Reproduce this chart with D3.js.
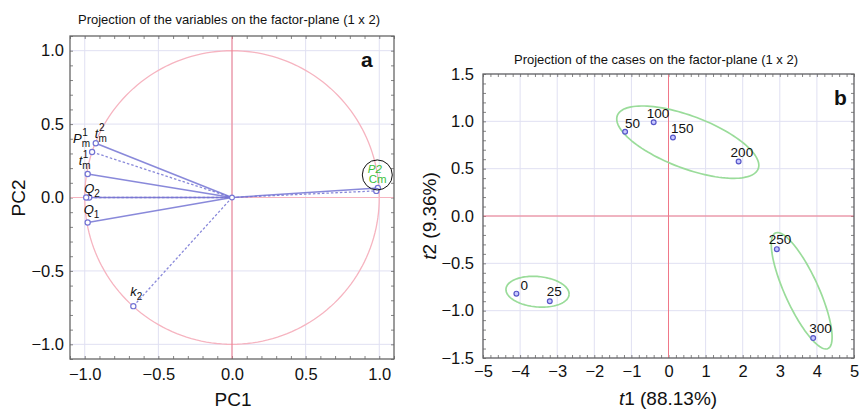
<!DOCTYPE html>
<html>
<head>
<meta charset="utf-8">
<script src="https://cdn.jsdelivr.net/npm/d3@7"></script>
<style>
  body { margin: 0; background: #fff; }
  svg text { font-family: "Liberation Sans", Arial, Helvetica, sans-serif; fill: #111; }
</style>
</head>
<body>
<div id="chart"></div>
<script>
// ---- data: panel a (variables) ----
const varBase = ["t", "P", "t", "Q", "", "Q", "k", "", ""]
const varSup = ["2", "1", "1", "", "", "", "", "", ""]
const varSub = ["m", "m", "m", "2", "", "1", "2", "", ""]
const varPC1 = [-0.925, -0.95, -0.98, -0.97, -0.99, -0.98, -0.67, 0.99, 0.98]
const varPC2 = [0.37, 0.31, 0.16, 0.0, 0.0, -0.17, -0.74, 0.065, 0.045]
const varDashed = [false, true, false, false, true, false, true, false, true]
const rightLabels = ["P2", "Cm"]

// ---- data: panel b (cases) ----
const caseLabels = ["0", "25", "50", "100", "150", "200", "250", "300"]
const caseT1 = [-4.1, -3.2, -1.17, -0.4, 0.12, 1.89, 2.92, 3.9]
const caseT2 = [-0.82, -0.9, 0.89, 0.99, 0.83, 0.575, -0.35, -1.29]

// group ellipses: centre, semi-axis vectors (data units)
const ellCenter = [[-3.53, -0.80], [0.52, 0.78], [3.59, -0.79]]
const ellAxisA = [[0.85, -0.03], [1.90, -0.28], [0.71, -0.61]]
const ellAxisB = [[-0.035, -0.16], [-0.24, -0.26], [-0.41, -0.077]]

// ticks
const ticksA = [-1.0, -0.5, 0.0, 0.5, 1.0]
const ticksBx = [-5, -4, -3, -2, -1, 0, 1, 2, 3, 4, 5]
const ticksBy = [-1.5, -1.0, -0.5, 0.0, 0.5, 1.0, 1.5]

const W = 861, H = 409
const svg = d3.select("#chart").append("svg").attr("width", W).attr("height", H)

const gridColor = "#e0e0f2"
const redColor = "#f07888"
const blueColor = "#7474d4"
const greenColor = "#9adc9a"

function frame(g, x, y, xMajor, yMajor, xMinorStep, yMinorStep, fmtX, fmtY, padX, padY) {
    const [x0, x1] = x.range(), [y1, y0] = y.range()
    // grid
    g.append("g").selectAll("line").data(xMajor).join("line")
        .attr("x1", d => x(d)).attr("x2", d => x(d)).attr("y1", y0).attr("y2", y1)
        .attr("stroke", gridColor).attr("stroke-width", 1)
    g.append("g").selectAll("line").data(yMajor).join("line")
        .attr("y1", d => y(d)).attr("y2", d => y(d)).attr("x1", x0).attr("x2", x1)
        .attr("stroke", gridColor).attr("stroke-width", 1)

    const xd = x.domain(), yd = y.domain()
    const xm = d3.range(Math.ceil(xd[0] / xMinorStep - 1e-6), Math.floor(xd[1] / xMinorStep + 1e-6) + 1).map(i => i * xMinorStep)
    const ym = d3.range(Math.ceil(yd[0] / yMinorStep - 1e-6), Math.floor(yd[1] / yMinorStep + 1e-6) + 1).map(i => i * yMinorStep)

    // inner minor ticks on four sides
    const tk = g.append("g").attr("class", "ticks")
    tk.append("g").attr("transform", `translate(0,${y1})`)
        .call(d3.axisBottom(x).tickValues(xm).tickSize(-3).tickFormat(""))
    tk.append("g").attr("transform", `translate(0,${y0})`)
        .call(d3.axisTop(x).tickValues(xm).tickSize(-3).tickFormat(""))
    tk.append("g").attr("transform", `translate(${x0},0)`)
        .call(d3.axisLeft(y).tickValues(ym).tickSize(-3).tickFormat(""))
    tk.append("g").attr("transform", `translate(${x1},0)`)
        .call(d3.axisRight(y).tickValues(ym).tickSize(-3).tickFormat(""))
    tk.selectAll(".domain").remove()
    tk.selectAll(".tick line").attr("stroke", "#666").attr("stroke-width", 0.8)

    // labels
    const ax = g.append("g").attr("transform", `translate(0,${y1})`)
        .call(d3.axisBottom(x).tickValues(xMajor).tickSize(0).tickPadding(padX).tickFormat(fmtX))
    const ay = g.append("g").attr("transform", `translate(${x0},0)`)
        .call(d3.axisLeft(y).tickValues(yMajor).tickSize(0).tickPadding(padY).tickFormat(fmtY))
    ax.select(".domain").remove()
    ay.select(".domain").remove()
    g.selectAll(".tick text").attr("font-size", 16.5).attr("fill", "#111")
        .attr("font-family", "Liberation Sans, Arial, sans-serif")
    return { x0, x1, y0, y1 }
}

function border(g, b) {
    g.append("rect").attr("x", b.x0).attr("y", b.y0)
        .attr("width", b.x1 - b.x0).attr("height", b.y1 - b.y0)
        .attr("fill", "none").attr("stroke", "#666").attr("stroke-width", 1.3)
}

const fmt1 = d3.format(".1f")

// ================= panel a =================
const ga = svg.append("g")
const xA = d3.scaleLinear().domain([-1.1, 1.1]).range([70, 394])
const yA = d3.scaleLinear().domain([-1.1, 1.1]).range([359, 36])
const bA = frame(ga, xA, yA, ticksA, ticksA, 0.1, 0.1, fmt1, fmt1, 9, 6)

// unit circle
const circ = d3.range(0, 361, 2).map(a => [Math.cos(a * Math.PI / 180), Math.sin(a * Math.PI / 180)])
ga.append("path").datum(circ)
    .attr("d", d3.line().x(d => xA(d[0])).y(d => yA(d[1])))
    .attr("fill", "none").attr("stroke", "#f6b4c0").attr("stroke-width", 1.3)
// axes through origin
ga.append("line").attr("x1", xA(0)).attr("x2", xA(0)).attr("y1", bA.y0).attr("y2", bA.y1)
    .attr("stroke", redColor).attr("stroke-width", 1)
ga.append("line").attr("y1", yA(0)).attr("y2", yA(0)).attr("x1", bA.x0).attr("x2", bA.x1)
    .attr("stroke", "#f6b4c0").attr("stroke-width", 1)

// vectors
const vars = varPC1.map((d, i) => ({ x: d, y: varPC2[i], dashed: varDashed[i] }))
ga.append("g").selectAll("line").data(vars).join("line")
    .attr("x1", xA(0)).attr("y1", yA(0))
    .attr("x2", d => xA(d.x)).attr("y2", d => yA(d.y))
    .attr("stroke", blueColor).attr("stroke-opacity", 0.85)
    .attr("stroke-width", d => d.dashed ? 1.3 : 1.6)
    .attr("stroke-dasharray", d => d.dashed ? "2.5,2" : null)
ga.append("g").selectAll("circle").data(vars).join("circle")
    .attr("cx", d => xA(d.x)).attr("cy", d => yA(d.y)).attr("r", 2.6)
    .attr("fill", "#fff").attr("stroke", blueColor).attr("stroke-width", 1.2)
ga.append("circle").attr("cx", xA(0)).attr("cy", yA(0)).attr("r", 2.4)
    .attr("fill", "#fff").attr("stroke", blueColor).attr("stroke-width", 1.1)

// variable labels (offsets from point, pixels)
const labOff = [[-1, -5], [-19, -9], [-9, -9], [-5, -5], null, [-4, -8], [-3, -10]]
labOff.forEach((o, i) => {
    if (!o || !varBase[i]) return
    const px = xA(varPC1[i]) + o[0], py = yA(varPC2[i]) + o[1]
    const t = ga.append("text").attr("x", px).attr("y", py)
        .attr("font-size", 13).attr("font-style", "italic").text(varBase[i])
    const w = t.node().getComputedTextLength()
    if (varSup[i]) ga.append("text").attr("x", px + w + 0.5).attr("y", py - 7)
        .attr("font-size", 10).text(varSup[i])
    if (varSub[i]) ga.append("text").attr("x", px + w).attr("y", py + 4)
        .attr("font-size", 10).text(varSub[i])
})
// right-side cluster labels
const rp = [xA(varPC1[7]), yA(varPC2[7])]
ga.append("text").attr("x", rp[0] - 10).attr("y", rp[1] - 15)
    .attr("font-size", 11.5).attr("font-style", "italic").style("fill", "#3cbf3c").text(rightLabels[0])
ga.append("text").attr("x", rp[0] - 9).attr("y", rp[1] - 5)
    .attr("font-size", 11.5).style("fill", "#3cbf3c").text(rightLabels[1])
ga.append("circle").attr("cx", rp[0] - 0.5).attr("cy", rp[1] - 13).attr("r", 15)
    .attr("fill", "none").attr("stroke", "#111").attr("stroke-width", 1)

border(ga, bA)

ga.append("text").attr("x", 229).attr("y", 24).attr("text-anchor", "middle")
    .attr("font-size", 13).text("Projection of the variables on the factor-plane (1 x 2)")
ga.append("text").attr("x", 361).attr("y", 67).attr("font-size", 21).attr("font-weight", "bold").text("a")
ga.append("text").attr("x", 233).attr("y", 406).attr("text-anchor", "middle")
    .attr("font-size", 19).text("PC1")
ga.append("text").attr("transform", "translate(25,198) rotate(-90)").attr("text-anchor", "middle")
    .attr("font-size", 19).text("PC2")

// ================= panel b =================
const gb = svg.append("g")
const xB = d3.scaleLinear().domain([-5, 5]).range([483, 854])
const yB = d3.scaleLinear().domain([-1.5, 1.5]).range([358, 74])
const bB = frame(gb, xB, yB, ticksBx, ticksBy, 0.2, 0.1, d3.format("d"), fmt1, 7, 9)

gb.append("line").attr("x1", xB(0)).attr("x2", xB(0)).attr("y1", bB.y0).attr("y2", bB.y1)
    .attr("stroke", redColor).attr("stroke-width", 1)
gb.append("line").attr("y1", yB(0)).attr("y2", yB(0)).attr("x1", bB.x0).attr("x2", bB.x1)
    .attr("stroke", redColor).attr("stroke-width", 1)

// ellipses
ellCenter.forEach((c, i) => {
    const a = ellAxisA[i], b = ellAxisB[i]
    const pts = d3.range(0, 361, 3).map(t => {
        const r = t * Math.PI / 180
        return [c[0] + a[0] * Math.cos(r) + b[0] * Math.sin(r), c[1] + a[1] * Math.cos(r) + b[1] * Math.sin(r)]
    })
    gb.append("path").datum(pts)
        .attr("d", d3.line().x(d => xB(d[0])).y(d => yB(d[1])))
        .attr("fill", "none").attr("stroke", greenColor).attr("stroke-width", 1.7)
})

const cases = caseLabels.map((l, i) => ({ label: l, x: caseT1[i], y: caseT2[i] }))
gb.append("g").selectAll("circle").data(cases).join("circle")
    .attr("cx", d => xB(d.x)).attr("cy", d => yB(d.y)).attr("r", 2.4)
    .attr("fill", "#c8c8ff").attr("stroke", "#5656c8").attr("stroke-width", 1.2)
const caseOff = [[4, -4], [-3, -5], [0, -4], [-7, -4], [-2, -4], [-8, -5], [-8, -5], [-4, -5]]
gb.append("g").selectAll("text").data(cases).join("text")
    .attr("x", (d, i) => xB(d.x) + caseOff[i][0]).attr("y", (d, i) => yB(d.y) + caseOff[i][1])
    .attr("font-size", 13.5).text(d => d.label)

border(gb, bB)

gb.append("text").attr("x", 656).attr("y", 64).attr("text-anchor", "middle")
    .attr("font-size", 13).text("Projection of the cases on the factor-plane (1 x 2)")
gb.append("text").attr("x", 834).attr("y", 105).attr("font-size", 21).attr("font-weight", "bold").text("b")
const xl = gb.append("text").attr("x", 668).attr("y", 405).attr("text-anchor", "middle").attr("font-size", 19)
xl.append("tspan").attr("font-style", "italic").text("t")
xl.append("tspan").text("1 (88.13%)")
const yl = gb.append("text").attr("transform", "translate(436,216) rotate(-90)")
    .attr("text-anchor", "middle").attr("font-size", 19)
yl.append("tspan").attr("font-style", "italic").text("t")
yl.append("tspan").text("2 (9.36%)")
</script>
</body>
</html>
